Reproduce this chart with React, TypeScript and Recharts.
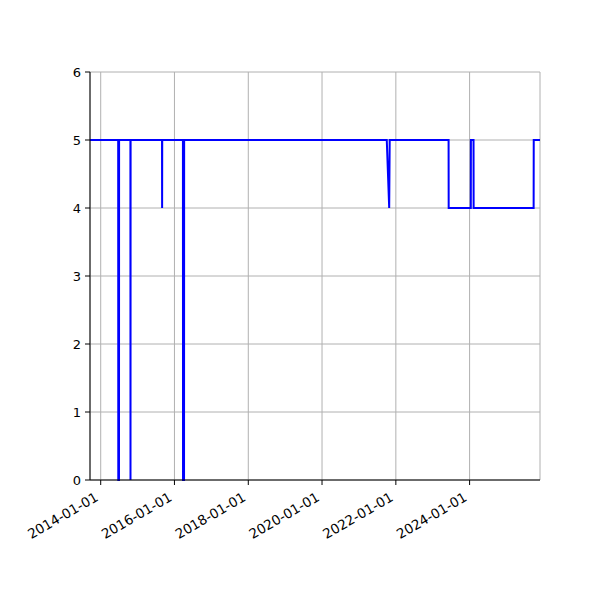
import React from 'react';
import { LineChart, Line, XAxis, YAxis, CartesianGrid } from 'recharts';

const dates = ['2013-09-17','2014-06-23','2014-06-24','2014-07-01','2014-07-02','2014-10-22','2014-10-23','2014-10-24','2015-08-31','2015-09-01','2015-09-02','2016-03-25','2016-03-26','2016-04-05','2016-04-06','2021-10-03','2021-10-27','2021-11-01','2023-06-07','2023-06-08','2024-01-13','2024-01-14','2024-02-09','2024-02-10','2025-09-26','2025-09-27','2025-11-28'];
const values = [5,5,0,0,5,5,0,5,5,4,5,5,0,0,5,5,4,5,5,4,4,5,5,4,4,5,5];
const xTickLabels = ['2014-01-01','2016-01-01','2018-01-01','2020-01-01','2022-01-01','2024-01-01'];
const yTicks = [0,1,2,3,4,5,6];
const xStart = '2013-09-17';
const xEnd = '2025-11-28';

const data = dates.map((d, i) => ({ t: Date.parse(d), v: values[i] }));
const xTicks = xTickLabels.map((d) => Date.parse(d));

const FONT = 'DejaVu Sans, sans-serif';

const fmt = (t: number) => {
  const d = new Date(t);
  const y = d.getUTCFullYear();
  const m = String(d.getUTCMonth() + 1).padStart(2, '0');
  const dd = String(d.getUTCDate()).padStart(2, '0');
  return `${y}-${m}-${dd}`;
};

const XTick = (props: any) => {
  const { x, y, payload } = props;
  const px = x - 1.6;
  const py = y + 15;
  return (
    <text
      x={px}
      y={py}
      transform={`rotate(-30, ${px}, ${py})`}
      textAnchor="end"
      fontSize={13.5}
      fontFamily={FONT}
      fill="#000"
    >
      {fmt(payload.value)}
    </text>
  );
};

export default function App() {
  return (
    <div style={{ position: 'absolute', left: 0, top: 0, width: 600, height: 600, background: '#fff' }}>
      <LineChart width={600} height={600} data={data} margin={{ top: 72, right: 60, bottom: 0, left: 0 }}>
        <CartesianGrid stroke="#b0b0b0" strokeWidth={1} />
        <XAxis
          dataKey="t"
          type="number"
          scale="linear"
          domain={[Date.parse(xStart), Date.parse(xEnd)]}
          allowDataOverflow
          ticks={xTicks}
          interval={0}
          height={120}
          tick={<XTick />}
          tickSize={5}
          tickMargin={0}
          axisLine={{ stroke: '#000', strokeWidth: 1 }}
          tickLine={{ stroke: '#000', strokeWidth: 1 }}
        />
        <XAxis
          xAxisId="top"
          orientation="top"
          dataKey="t"
          type="number"
          domain={[Date.parse(xStart), Date.parse(xEnd)]}
          height={0}
          tick={false}
          tickLine={false}
          axisLine={{ stroke: '#000', strokeWidth: 1 }}
        />
        <YAxis
          type="number"
          domain={[0, 6]}
          ticks={yTicks}
          interval={0}
          width={90}
          tickSize={5}
          tickMargin={4}
          tick={{ fontSize: 13, fontFamily: FONT, fill: '#000' }}
          axisLine={{ stroke: '#000', strokeWidth: 1 }}
          tickLine={{ stroke: '#000', strokeWidth: 1 }}
        />
        <YAxis
          yAxisId="right"
          orientation="right"
          domain={[0, 6]}
          width={0}
          tick={false}
          tickLine={false}
          axisLine={{ stroke: '#000', strokeWidth: 1 }}
        />
        <Line
          type="linear"
          dataKey="v"
          stroke="#0000ff"
          strokeWidth={2}
          dot={false}
          activeDot={false}
          isAnimationActive={false}
        />
      </LineChart>
    </div>
  );
}
